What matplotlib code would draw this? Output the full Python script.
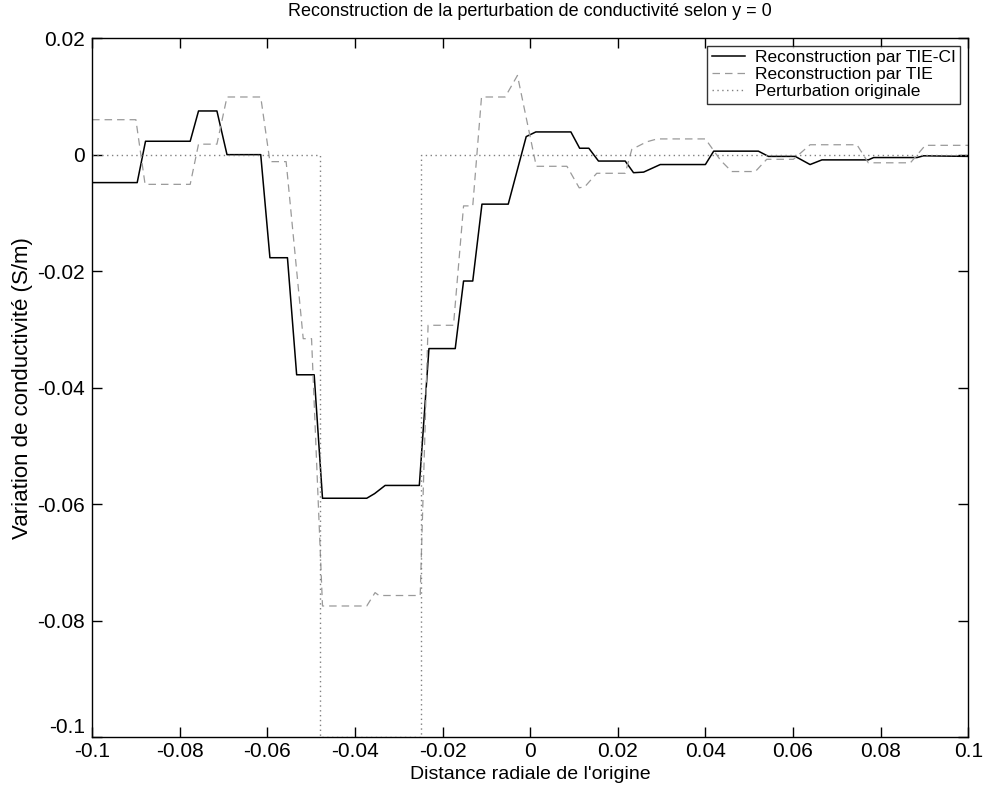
import matplotlib
matplotlib.use("Agg")
import matplotlib.pyplot as plt

plt.rcParams["font.family"] = ["Liberation Sans", "DejaVu Sans"]

# Reconstruction par TIE-CI (solid)
x_tieci = [-0.1, -0.0897, -0.0878, -0.0776, -0.0757, -0.0715, -0.0692, -0.0615,
           -0.0594, -0.0554, -0.0533, -0.0493, -0.0474, -0.0373, -0.0355, -0.0331,
           -0.0253, -0.0231, -0.0171, -0.0152, -0.0131, -0.0110, -0.0050, -0.0009,
           0.0013, 0.0093, 0.0113, 0.0134, 0.0156, 0.0217, 0.0236, 0.0259, 0.0297,
           0.0400, 0.0419, 0.0521, 0.0544, 0.0605, 0.0639, 0.0666, 0.0772, 0.0784,
           0.0883, 0.0898, 0.1]
y_tieci = [-0.0048, -0.0048, 0.0023, 0.0023, 0.0075, 0.0075, 0.0, 0.0,
           -0.0177, -0.0177, -0.0378, -0.0378, -0.0590, -0.0590, -0.0582, -0.0568,
           -0.0568, -0.0333, -0.0333, -0.0217, -0.0217, -0.0085, -0.0085, 0.0031,
           0.0039, 0.0039, 0.0011, 0.0011, -0.0011, -0.0011, -0.0031, -0.0030, -0.0017,
           -0.0017, 0.0006, 0.0006, -0.0003, -0.0003, -0.0017, -0.0009, -0.0009, -0.0005,
           -0.0005, -0.0002, -0.0003]

# Reconstruction par TIE (dashed)
x_tie = [-0.1, -0.0900, -0.0879, -0.0776, -0.0757, -0.0715, -0.0692, -0.0615,
         -0.0594, -0.0557, -0.0518, -0.0499, -0.0474, -0.0373, -0.0354, -0.0345,
         -0.0251, -0.0233, -0.0175, -0.0152, -0.0131, -0.0111, -0.0057, -0.0029,
         0.0014, 0.0084, 0.0112, 0.0125, 0.0152, 0.0217, 0.0232, 0.0266, 0.0290,
         0.0400, 0.0435, 0.0460, 0.0514, 0.0540, 0.0601, 0.0639, 0.0746, 0.0772,
         0.0868, 0.0902, 0.1]
y_tie = [0.0060, 0.0060, -0.0051, -0.0051, 0.0018, 0.0018, 0.0099, 0.0099,
         -0.0012, -0.0012, -0.0316, -0.0316, -0.0775, -0.0775, -0.0752, -0.0757,
         -0.0757, -0.0293, -0.0293, -0.0088, -0.0088, 0.0099, 0.0099, 0.0136,
         -0.0020, -0.0020, -0.0057, -0.0055, -0.0032, -0.0032, 0.0009, 0.0022, 0.0027,
         0.0027, -0.0010, -0.0029, -0.0029, -0.0008, -0.0008, 0.0017, 0.0017, -0.0014,
         -0.0014, 0.0016, 0.0016]

# Perturbation originale (dotted)
x_orig = [-0.1, -0.048, -0.048, -0.025, -0.025, 0.1]
y_orig = [0.0, 0.0, -0.1, -0.1, 0.0, 0.0]

xticks = [-0.1, -0.08, -0.06, -0.04, -0.02, 0, 0.02, 0.04, 0.06, 0.08, 0.1]
xtick_labels = ["-0.1", "-0.08", "-0.06", "-0.04", "-0.02", "0", "0.02", "0.04", "0.06", "0.08", "0.1"]
yticks = [-0.1, -0.08, -0.06, -0.04, -0.02, 0, 0.02]
ytick_labels = ["-0.1", "-0.08", "-0.06", "-0.04", "-0.02", "0", "0.02"]

fig = plt.figure(figsize=(9.9, 7.87), dpi=100)
ax = fig.add_axes([0.093, 0.0635, 0.885, 0.888])

ax.plot(x_tieci, y_tieci, color="black", lw=1.1, label="Reconstruction par TIE-CI")
ax.plot(x_tie, y_tie, color="#9a9a9a", lw=0.9, ls=(0, (6, 4)), label="Reconstruction par TIE")
ax.plot(x_orig, y_orig, color="#808080", lw=1.0, ls=(0, (1, 2.5)), label="Perturbation originale")

ax.set_xlim(-0.1, 0.1)
ax.set_ylim(-0.1, 0.02)
ax.set_xticks(xticks)
ax.set_xticklabels(xtick_labels)
ax.set_yticks(yticks)
ax.set_yticklabels(ytick_labels)
ax.tick_params(direction="in", top=True, right=True, length=7, labelsize=15, width=1)
ax.tick_params(axis="y", pad=5)
ax.get_yticklabels()[0].set_verticalalignment("bottom")
for s in ax.spines.values():
    s.set_linewidth(1.0)

ax.set_xlabel("Distance radiale de l'origine", fontsize=14, labelpad=4)
ax.set_ylabel("Variation de conductivité (S/m)", fontsize=16, labelpad=3)
ax.set_title("Reconstruction de la perturbation de conductivité selon y = 0", fontsize=13, pad=16)

leg = ax.legend(loc="upper right", fontsize=12.5, frameon=True, fancybox=False,
                edgecolor="black", handlelength=1.9, handletextpad=0.6, borderpad=0.25,
                labelspacing=0.1, borderaxespad=0.45)
leg.get_frame().set_linewidth(1.0)

fig.savefig("out.png", dpi=100)
